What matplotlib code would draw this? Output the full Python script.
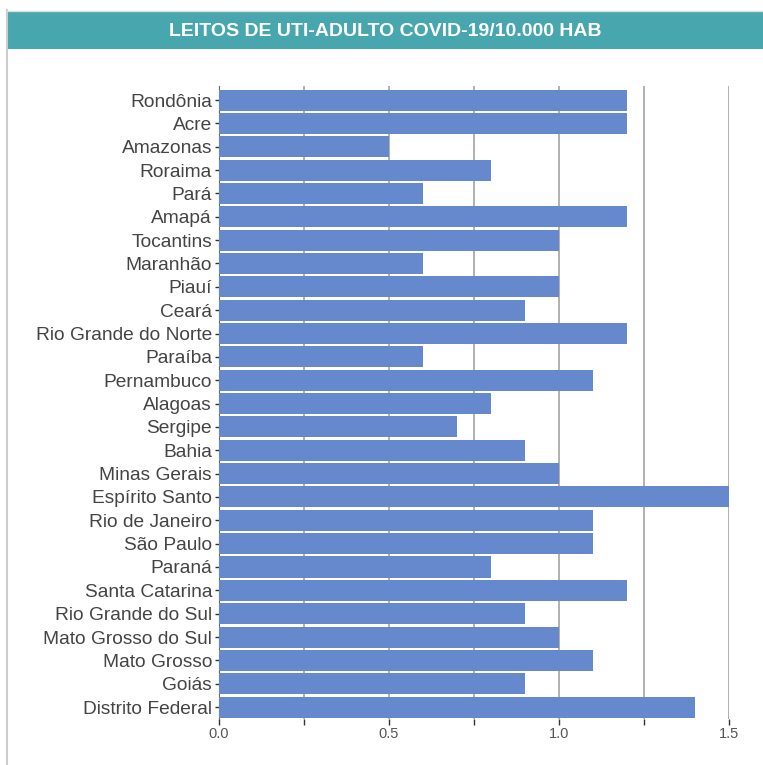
import matplotlib
matplotlib.use('Agg')
import matplotlib.pyplot as plt
from matplotlib.patches import Rectangle
from matplotlib.lines import Line2D

estados = ['Rondônia', 'Acre', 'Amazonas', 'Roraima', 'Pará', 'Amapá', 'Tocantins',
           'Maranhão', 'Piauí', 'Ceará', 'Rio Grande do Norte', 'Paraíba', 'Pernambuco',
           'Alagoas', 'Sergipe', 'Bahia', 'Minas Gerais', 'Espírito Santo', 'Rio de Janeiro',
           'São Paulo', 'Paraná', 'Santa Catarina', 'Rio Grande do Sul',
           'Mato Grosso do Sul', 'Mato Grosso', 'Goiás', 'Distrito Federal']
leitos = [1.2, 1.2, 0.5, 0.8, 0.6, 1.2, 1.0, 0.6, 1.0, 0.9, 1.2, 0.6, 1.1, 0.8, 0.7,
          0.9, 1.0, 1.5, 1.1, 1.1, 0.8, 1.2, 0.9, 1.0, 1.1, 0.9, 1.4]
ticks = [0.0, 0.25, 0.5, 0.75, 1.0, 1.25, 1.5]
tick_labels = ['0.0', '', '0.5', '', '1.0', '', '1.5']
titulo = 'LEITOS DE UTI-ADULTO COVID-19/10.000 HAB'

plt.rcParams['font.family'] = ['Liberation Sans', 'DejaVu Sans']

W, H = 763, 765
fig = plt.figure(figsize=(W/100, H/100), dpi=100)

# moldura e faixa do titulo
fig.add_artist(Line2D([7/W, 7/W], [0, 1-10/H], color='#cccccc', lw=1.5))
fig.add_artist(Line2D([7/W, 1], [1-10.5/H, 1-10.5/H], color='#dddddd', lw=1))
fig.add_artist(Rectangle((8/W, 1-49/H), 1-8/W, 38/H, color='#48a6ae', lw=0))
fig.text((8+763)/2/W, 1-31/H, titulo, color='white', fontsize=14, fontweight='bold',
         ha='center', va='center')

ax = fig.add_axes([219/W, 1-719/H, (729-219)/W, (719-86)/H])
y = range(len(estados))
ax.barh(y, leitos, height=0.9, color='#6688cc', zorder=3)
ax.set_xlim(0, 1.5)
ax.set_ylim(len(estados)-0.49, -0.6)
ax.set_yticks(list(y))
ax.set_yticklabels(estados, fontsize=13.8, color='#444444')
ax.set_xticks(ticks)
ax.set_xticklabels(tick_labels, fontsize=10.5, color='#555555')
ax.grid(axis='x', color='#aaaaaa', lw=1.3, zorder=0)
for s in ['top', 'right', 'bottom']:
    ax.spines[s].set_visible(False)
ax.spines['left'].set_color('#666666')
ax.spines['left'].set_linewidth(0.8)
ax.tick_params(axis='y', length=3, width=1, color='#333333', pad=2)
ax.tick_params(axis='x', length=4, width=1, color='#333333', pad=2)

fig.savefig('out.png', dpi=100)
